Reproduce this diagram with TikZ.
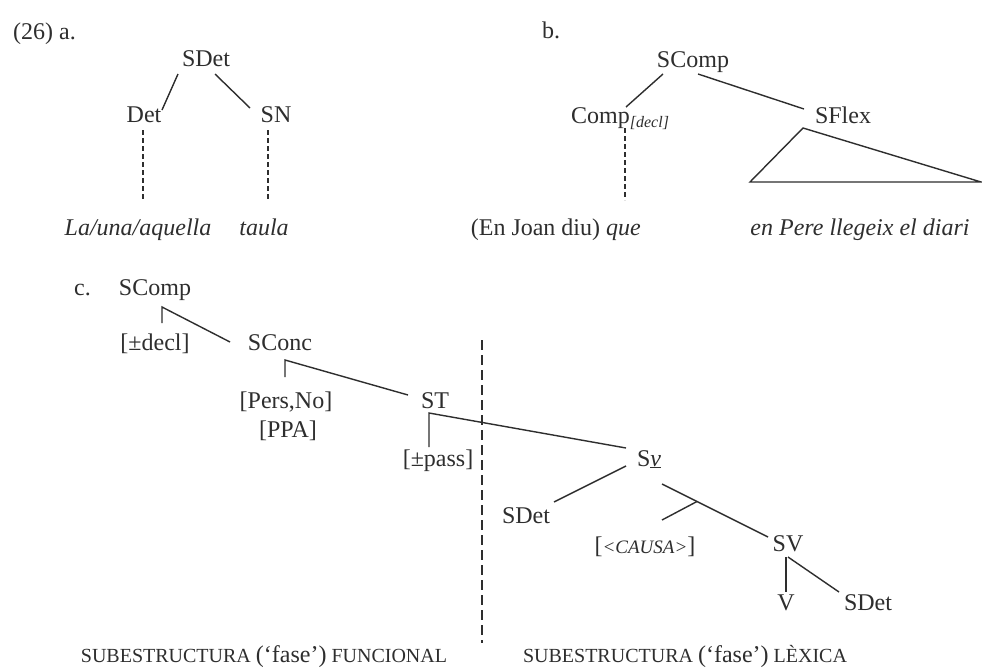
\documentclass[tikz,border=0pt]{standalone}
\usepackage{fontspec}
\setmainfont{Liberation Serif}
\definecolor{ink}{gray}{0.18}
\begin{document}
\begin{tikzpicture}[x=1pt,y=-1pt,
  lbl/.style={anchor=base, inner sep=0pt, text=ink, font=\fontsize{24}{28}\selectfont},
  edge/.style={draw=ink, line width=1.4pt},
  fine/.style={draw=ink, line width=1.2pt, dash pattern=on 5pt off 3pt},
  divider/.style={draw=ink, line width=1.3pt, dash pattern=on 10pt off 5pt},
  capsfont/.style={font=\fontsize{20}{24}\selectfont}]
\useasboundingbox (0,0) rectangle (982,670);
\fill[white] (0,0) rectangle (982,670);

% ---------- (26) a.
\node[lbl, anchor=base west] (num) at (13,39) {(26) a.};
\node[lbl] (aSDet) at (206,66) {SDet};
\node[lbl] (aDet) at (144,122) {Det};
\node[lbl] (aSN) at (276,122) {SN};
\node[lbl] (aLa) at (138,235) {\itshape La/una/aquella};
\node[lbl] (ataula) at (264,235) {\itshape taula};
\draw[edge] ([shift={(-28,8)}]aSDet.base) -- ([shift={(18,-12)}]aDet.base);
\draw[edge] ([shift={(9,8)}]aSDet.base) -- ([shift={(-26,-14)}]aSN.base);
\draw[fine] ([shift={(-1,8)}]aDet.base) -- ([shift={(5,-35)}]aLa.base);
\draw[fine] ([shift={(-8,8)}]aSN.base) -- ([shift={(4,-35)}]ataula.base);

% ---------- b.
\node[lbl, anchor=base west] (blab) at (542,38) {b.};
\node[lbl] (bSComp) at (693,67) {SComp};
\node[lbl, anchor=base west] (bComp) at (571,123) {Comp\raisebox{-4pt}{\fontsize{16}{18}\selectfont\itshape [decl]}};
\node[lbl] (bSFlex) at (843,123) {SFlex};
\node[lbl, anchor=base east] (bque) at (641,235) {(En Joan diu) \textit{que}};
\node[lbl] (bPere) at (860,235) {\itshape en Pere llegeix el diari};
\draw[edge] ([shift={(-30,7)}]bSComp.base) -- ([shift={(55,-16)}]bComp.base west);
\draw[edge] ([shift={(5,7)}]bSComp.base) -- ([shift={(-39,-14)}]bSFlex.base);
\draw[edge] ([shift={(-40,5)}]bSFlex.base) -- ([shift={(-110,-53)}]bPere.base)
  -- ([shift={(121,-53)}]bPere.base) -- cycle;
\draw[fine] ([shift={(54,5)}]bComp.base west) -- ([shift={(-16,-35)}]bque.base east);

% ---------- c.
\node[lbl, anchor=base west] (clab) at (74,295) {c.};
\node[lbl] (cSComp) at (155,295) {SComp};
\node[lbl] (cdecl) at (155,350) {[±decl]};
\node[lbl] (cSConc) at (280,350) {SConc};
\node[lbl] (cPers) at (286,408) {[Pers,No]};
\node[lbl] (cPPA) at (288,437) {[PPA]};
\node[lbl] (cST) at (435,408) {ST};
\node[lbl] (cpass) at (438,466) {[±pass]};
\node[lbl] (cSv) at (649,466) {S\underline{\itshape v}};
\node[lbl] (cSDetA) at (526,523) {SDet};
\node[lbl] (ccausa) at (645,553) {[{\fontsize{19}{21}\selectfont\itshape <CAUSA>}]};
\node[lbl] (cSV) at (788,551) {SV};
\node[lbl] (cV) at (786,610) {V};
\node[lbl] (cSDetB) at (868,610) {SDet};

% ticks and branches
\draw[edge] ([shift={(7,-27)}]cdecl.base) -- ([shift={(7,12)}]cSComp.base) -- ([shift={(-50,-8)}]cSConc.base);
\draw[edge] ([shift={(-1,-31)}]cPers.base) -- ([shift={(5,10)}]cSConc.base) -- ([shift={(-27,-13)}]cST.base);
\draw[edge] ([shift={(-9,-19)}]cpass.base) -- ([shift={(-6,5)}]cST.base) -- ([shift={(-23,-18)}]cSv.base);
\draw[edge] ([shift={(-23,0)}]cSv.base) -- ([shift={(28,-21)}]cSDetA.base);
\draw[edge] ([shift={(13,18)}]cSv.base) -- coordinate[pos=0.33] (brk) ([shift={(-20,-14)}]cSV.base);
\draw[edge] (brk) -- ([shift={(17,-33)}]ccausa.base);
\draw[edge] ([shift={(-2,6)}]cSV.base) -- ([shift={(0,-18)}]cV.base);
\draw[edge] ([shift={(0,6)}]cSV.base) -- ([shift={(-29,-18)}]cSDetB.base);

% divider
\coordinate (dtop) at (482,340);
\coordinate (dbot) at (482,643);
\draw[divider] (dtop) -- (dbot);

% bottom labels
\node[lbl, capsfont] (lfun) at (264,662) {SUBESTRUCTURA {\fontsize{24}{28}\selectfont (`fase')} FUNCIONAL};
\node[lbl, capsfont] (llex) at (685,662) {SUBESTRUCTURA {\fontsize{24}{28}\selectfont (`fase')} LÈXICA};
\end{tikzpicture}
\end{document}
